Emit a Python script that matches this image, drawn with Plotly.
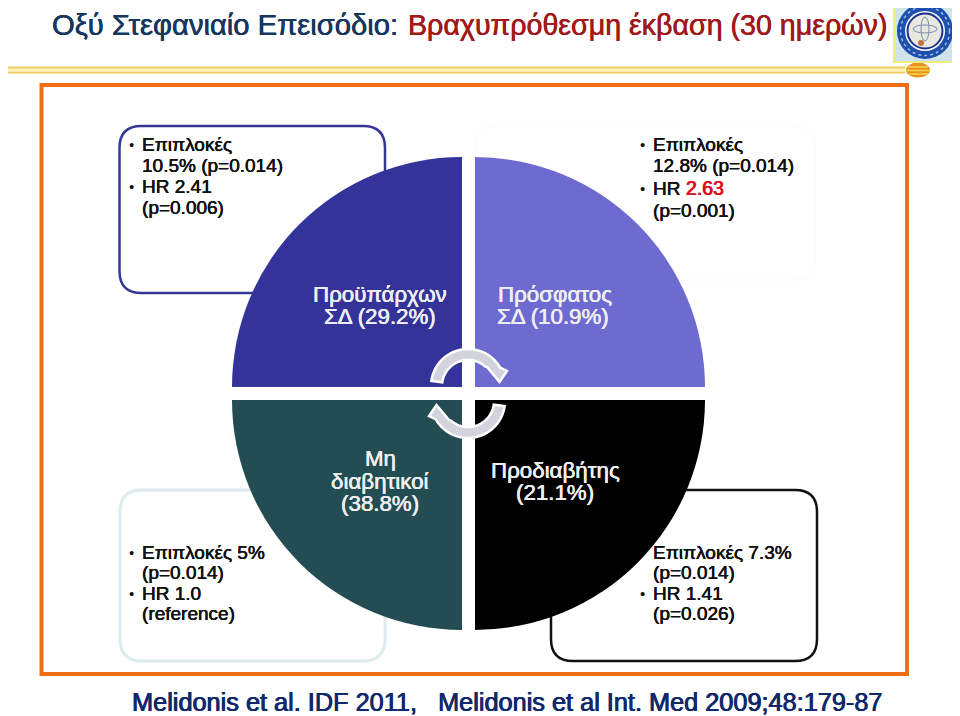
import numpy as np
import plotly.graph_objects as go

# The page body has an 8px margin, so the figure is 952x708 and page pixels are shifted by 8.
PAGE_W, PAGE_H, BODY = 960, 716, 8
W, H = PAGE_W - BODY, PAGE_H - BODY

# ---- data ----
groups = ["Πρόσφατος ΣΔ", "Προδιαβήτης", "Μη διαβητικοί", "Προϋπάρχων ΣΔ"]
quadrant_colors = ["#6D6BD0", "#000000", "#244D53", "#343399"]
quadrant_rotation = [0, 90, 180, 270]
quadrant_corner = [(475, 387), (475, 400), (462, 400), (462, 387)]
quadrant_radius = 230
quadrant_sizes = [1, 3]   # each quadrant is a quarter of its own circle; the rest is left empty

slice_text = [
    (380, 295, "Προϋπάρχων"), (380, 316, "ΣΔ (29.2%)"),
    (555, 295, "Πρόσφατος"), (553, 317, "ΣΔ (10.9%)"),
    (380, 458, "Μη"), (380, 481, "διαβητικοί"), (380, 503, "(38.8%)"),
    (555, 470, "Προδιαβήτης"), (555, 492, "(21.1%)"),
]
note_text = [
    (142, 145, "Επιπλοκές", True), (142, 165, "10.5% (p=0.014)", False),
    (142, 187, "HR 2.41", True), (142, 207, "(p=0.006)", False),
    (653, 145, "Επιπλοκές", True), (653, 165, "12.8% (p=0.014)", False),
    (653, 188, "HR", True), (653, 210, "(p=0.001)", False),
    (142, 552, "Επιπλοκές 5%", True), (142, 572, "(p=0.014)", False),
    (142, 593, "HR 1.0", True), (142, 613, "(reference)", False),
    (653, 552, "Επιπλοκές 7.3%", False), (653, 572, "(p=0.014)", False),
    (653, 593, "HR 1.41", True), (653, 613, "(p=0.026)", False),
]
highlight_text = (685.5, 188, "2.63")
title_left = "Οξύ Στεφανιαίο Επεισόδιο:"
title_right = "Βραχυπρόθεσμη έκβαση (30 ημερών)"
source_text = "Melidonis et al. IDF 2011,   Melidonis et al Int. Med 2009;48:179-87"

# ---- helpers: page pixels to paper fractions ----
def px(x): return (x - BODY) / W
def py(y): return 1 - (y - BODY) / H
def P(x, y): return f"{px(x):.5f},{py(y):.5f}"

def round_rect(x0, y0, x1, y1, r):
    return (f"M{P(x0+r,y0)} L{P(x1-r,y0)} Q{P(x1,y0)} {P(x1,y0+r)} L{P(x1,y1-r)} Q{P(x1,y1)} {P(x1-r,y1)} "
            f"L{P(x0+r,y1)} Q{P(x0,y1)} {P(x0,y1-r)} L{P(x0,y0+r)} Q{P(x0,y0)} {P(x0+r,y0)} Z")

def arrow_points():
    cx, cy, ro, ri = 468, 386, 37, 26
    oa = np.radians(np.linspace(172, 30, 30))
    ia = np.radians(np.linspace(48, 172, 30))
    outer = [(cx + ro*np.cos(t), cy - ro*np.sin(t)) for t in oa]
    inner = [(cx + ri*np.cos(t), cy - ri*np.sin(t)) for t in ia]
    head = [(507, 371), (499.5, 382), (487, 367)]
    return outer + head + inner

def poly(points):
    return "M" + " L".join(P(x, y) for x, y in points) + " Z"

upper = arrow_points()
lower = [(936 - x, 787 - y) for x, y in upper]

def rect(x0, y0, x1, y1, **kw):
    return dict(type="rect", xref="paper", yref="paper", x0=px(x0), x1=px(x1), y0=py(y0), y1=py(y1), **kw)
def ell(cx, cy, rx, ry, **kw):
    return dict(type="circle", xref="paper", yref="paper", x0=px(cx-rx), x1=px(cx+rx), y0=py(cy-ry), y1=py(cy+ry), **kw)
def seg(x0, y0, x1, y1, color, width):
    return dict(type="line", xref="paper", yref="paper", x0=px(x0), x1=px(x1), y0=py(y0), y1=py(y1),
                line=dict(color=color, width=width))
def path(d, line, fill="rgba(0,0,0,0)", layer="below"):
    return dict(type="path", xref="paper", yref="paper", path=d, line=line, fillcolor=fill, layer=layer)

shapes = [
    # header rule
    seg(8, 67.5, 905, 67.5, "#EFC95A", 2), seg(8, 70, 905, 70, "#FBF3B0", 2), seg(8, 72.5, 905, 72.5, "#EFC95A", 2),
    ell(918, 70, 12, 7.5, fillcolor="#E8901E", line=dict(width=0)),
    seg(908, 67, 928, 67, "#F6D84C", 1.5), seg(906, 70.5, 930, 70.5, "#F6D84C", 1.5), seg(908, 74, 928, 74, "#F6D84C", 1.5),
    # logo
    rect(894, 1, 956, 62, fillcolor="#CFE3EA", line=dict(color="#EFEB80", width=2)),
    ell(925, 31, 28, 28, fillcolor="#1D4FAE", line=dict(width=0)),
    ell(925, 31, 24.5, 24.5, fillcolor="rgba(0,0,0,0)", line=dict(color="#9FB8E0", width=1.5, dash="dot")),
    ell(925, 31, 20, 20, fillcolor="#FFFFFF", line=dict(width=0)),
    ell(925, 31, 17.5, 17.5, fillcolor="#E8E8E0", line=dict(color="#1B2F8E", width=2)),
    ell(925, 29, 4, 12, fillcolor="rgba(0,0,0,0)", line=dict(color="#7C8CA8", width=1)),
    ell(925, 29, 12, 4, fillcolor="rgba(0,0,0,0)", line=dict(color="#7C8CA8", width=1)),
    ell(921, 43, 3, 3, fillcolor="#C8703C", line=dict(width=0)),
    # frame
    rect(41.5, 85, 907, 674, fillcolor="rgba(0,0,0,0)", line=dict(color="#F06F14", width=4)),
    # note boxes, behind the pie
    path(round_rect(119.5, 126, 385, 293, 22), dict(color="#37379A", width=2.5)),
    path(round_rect(475, 126, 815, 280, 22), dict(color="#FBFBFB", width=1)),
    path(round_rect(120, 490, 385, 661, 22), dict(color="#DEEAEC", width=3)),
    path(round_rect(551, 490, 817, 661, 22), dict(color="#111111", width=2.5)),
    # cycle arrows
    path(poly(upper), dict(color="#FFFFFF", width=2.5), "#D3D3DE", "above"),
    path(poly(lower), dict(color="#FFFFFF", width=2.5), "#D3D3DE", "above"),
]

annotations = []
def text(x, y, s, size, color, anchor="left", shadow="none"):
    annotations.append(dict(xref="paper", yref="paper", x=px(x), y=py(y), text=s, showarrow=False,
                            xanchor=anchor, yanchor="middle", align=anchor,
                            font=dict(family="Liberation Sans", size=size, color=color, shadow=shadow),
                            borderpad=0, borderwidth=0))

thick = "0.3px 0 0 {0}, -0.2px 0 0 {0}"
heavy = "0.5px 0 0 {0}, -0.4px 0 0 {0}"
for x, y, s in slice_text:
    text(x, y, s, 22.3, "#EDEDF0", "center", thick.format("#EDEDF0"))
for x, y, s, bullet in note_text:
    text(x, y, s, 19, "#111111", "left", thick.format("#111111"))
    if bullet:
        text(x - 13, y, "•", 15, "#111111")
text(highlight_text[0], highlight_text[1], highlight_text[2], 19.5, "#E01020", "left", heavy.format("#E01020"))
text(52, 25, title_left, 29.2, "#17375E", "left", thick.format("#17375E"))
text(408, 25, title_right, 28.6, "#A01A1A", "left", thick.format("#A01A1A"))
text(132, 702, source_text, 25.3, "#10296A", "left", heavy.format("#10296A"))

fig = go.Figure()
for name, color, rot, (qx, qy) in zip(groups, quadrant_colors, quadrant_rotation, quadrant_corner):
    R = quadrant_radius
    fig.add_trace(go.Pie(
        labels=[name, ""], values=quadrant_sizes, sort=False, direction="clockwise", rotation=rot,
        textinfo="none", hoverinfo="label", showlegend=False,
        marker=dict(colors=[color, "rgba(0,0,0,0)"], line=dict(width=0)),
        domain=dict(x=[px(qx-R), px(qx+R)], y=[py(qy+R), py(qy-R)]),
    ))
fig.update_layout(width=W, height=H, margin=dict(l=0, r=0, t=0, b=0, pad=0), autosize=False,
                  paper_bgcolor="#FFFFFF", plot_bgcolor="#FFFFFF", showlegend=False,
                  shapes=shapes, annotations=annotations)
fig.write_html("out.html")
